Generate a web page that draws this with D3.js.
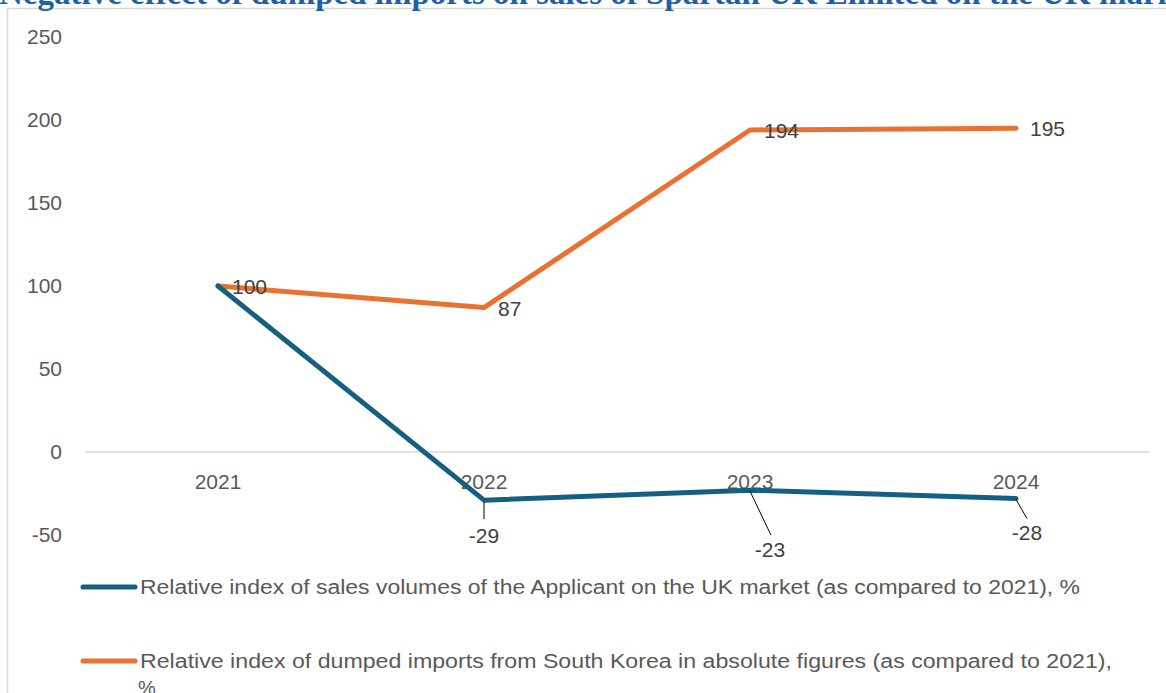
<!DOCTYPE html>
<html><head><meta charset="utf-8">
<script src="https://cdn.jsdelivr.net/npm/d3@7"></script>
<style>
html,body{margin:0;padding:0;background:#fff;overflow:hidden;}
svg{display:block;}
</style></head>
<body><svg id="chart" width="1166" height="693"></svg>
<script>
const title = "Negative effect of dumped imports on sales of Spartan UK Limited on the UK market";
const years = ["2021", "2022", "2023", "2024"];
const salesIndex = [100, -29, -23, -28];
const importsIndex = [100, 87, 194, 195];
const yTicks = [-50, 0, 50, 100, 150, 200, 250];
const seriesNames = [
  "Relative index of sales volumes of the Applicant on the UK market (as compared to 2021), %",
  "Relative index of dumped imports from South Korea in absolute figures (as compared to 2021),"
];
const seriesNameTail = "%";

const svg = d3.select("#chart");
const font = "'Liberation Sans', Arial, sans-serif";
const textColor = "#595959";
const blue = "#156082", orange = "#E97132";
const fs = 21;

// frame
svg.append("rect").attr("x", 7.5).attr("y", 8.5).attr("width", 1170).attr("height", 700)
  .attr("fill", "#fff").attr("stroke", "#d9d9d9").attr("stroke-width", 1.5);

// clipped title
svg.append("text").attr("x", -1).attr("y", 4)
  .attr("font-family", "'Liberation Serif', 'Times New Roman', serif")
  .attr("font-weight", "bold").attr("font-size", 33).attr("fill", "#1F5FA8")
  .text(title);

const x = d3.scaleBand().domain(years).range([85, 1149]);
const y = d3.scaleLinear().domain([-50, 250]).range([535, 37]);
const cx = d => x(d) + x.bandwidth() / 2;

// y axis labels
const yAxis = d3.axisLeft(y).tickValues(yTicks).tickSize(0).tickPadding(0).tickFormat(d => String(d));
const gy = svg.append("g").attr("transform", "translate(62,0)").call(yAxis);
gy.select(".domain").remove();
gy.selectAll("text").attr("font-family", font).attr("font-size", fs).attr("fill", textColor);

// zero line
svg.append("line").attr("x1", 85).attr("x2", 1149).attr("y1", y(0)).attr("y2", y(0))
  .attr("stroke", "#d9d9d9").attr("stroke-width", 1.5);

// category labels
const xAxis = d3.axisBottom(x).tickSize(0).tickPadding(0);
const gx = svg.append("g").attr("transform", `translate(0,${y(0) + 37})`).call(xAxis);
gx.select(".domain").remove();
gx.selectAll("text").attr("font-family", font).attr("font-size", fs).attr("fill", textColor)
  .attr("dy", "0");

const line = d3.line().x((d, i) => cx(years[i])).y(d => y(d));

svg.append("path").datum(importsIndex).attr("d", line).attr("fill", "none")
  .attr("stroke", orange).attr("stroke-width", 5).attr("stroke-linejoin", "round").attr("stroke-linecap", "round");
svg.append("path").datum(salesIndex).attr("d", line).attr("fill", "none")
  .attr("stroke", blue).attr("stroke-width", 5).attr("stroke-linejoin", "round").attr("stroke-linecap", "round");

// orange labels (right of points)
svg.selectAll(".olab").data(importsIndex).enter().append("text")
  .attr("x", (d, i) => cx(years[i]) + 14)
  .attr("y", (d, i) => y(d) + 8)
  .attr("font-family", font).attr("font-size", fs).attr("fill", "#404040")
  .text(d => d);

// blue labels with leader lines
const blueOff = [[0, 43], [20, 67], [11, 42]];
const leaders = [[[0, 2], [0, 19]], [[0, 1], [21, 45]], [[0, 1], [11, 20]]];
salesIndex.forEach((d, i) => {
  if (i === 0) return;
  const px = cx(years[i]), py = y(d);
  const o = blueOff[i - 1], l = leaders[i - 1];
  svg.append("line").attr("x1", px + l[0][0]).attr("y1", py + l[0][1])
    .attr("x2", px + l[1][0]).attr("y2", py + l[1][1])
    .attr("stroke", "#000").attr("stroke-width", 1);
  svg.append("text").attr("x", px + o[0]).attr("y", py + o[1])
    .attr("text-anchor", "middle")
    .attr("font-family", font).attr("font-size", fs).attr("fill", "#404040")
    .text(d);
});

// legend
const leg = [{c: blue, y: 587, t: seriesNames[0], w: 940}, {c: orange, y: 661, t: seriesNames[1], w: 972}];
leg.forEach(l => {
  svg.append("line").attr("x1", 83).attr("x2", 135).attr("y1", l.y).attr("y2", l.y)
    .attr("stroke", l.c).attr("stroke-width", 5).attr("stroke-linecap", "round");
  svg.append("text").attr("x", 140).attr("y", l.y + 7)
    .attr("font-family", font).attr("font-size", 20).attr("fill", textColor)
    .attr("textLength", l.w).attr("lengthAdjust", "spacingAndGlyphs")
    .text(l.t);
});
svg.append("text").attr("x", 138).attr("y", 695)
  .attr("font-family", font).attr("font-size", 20).attr("fill", textColor)
  .text(seriesNameTail);
</script></body></html>
